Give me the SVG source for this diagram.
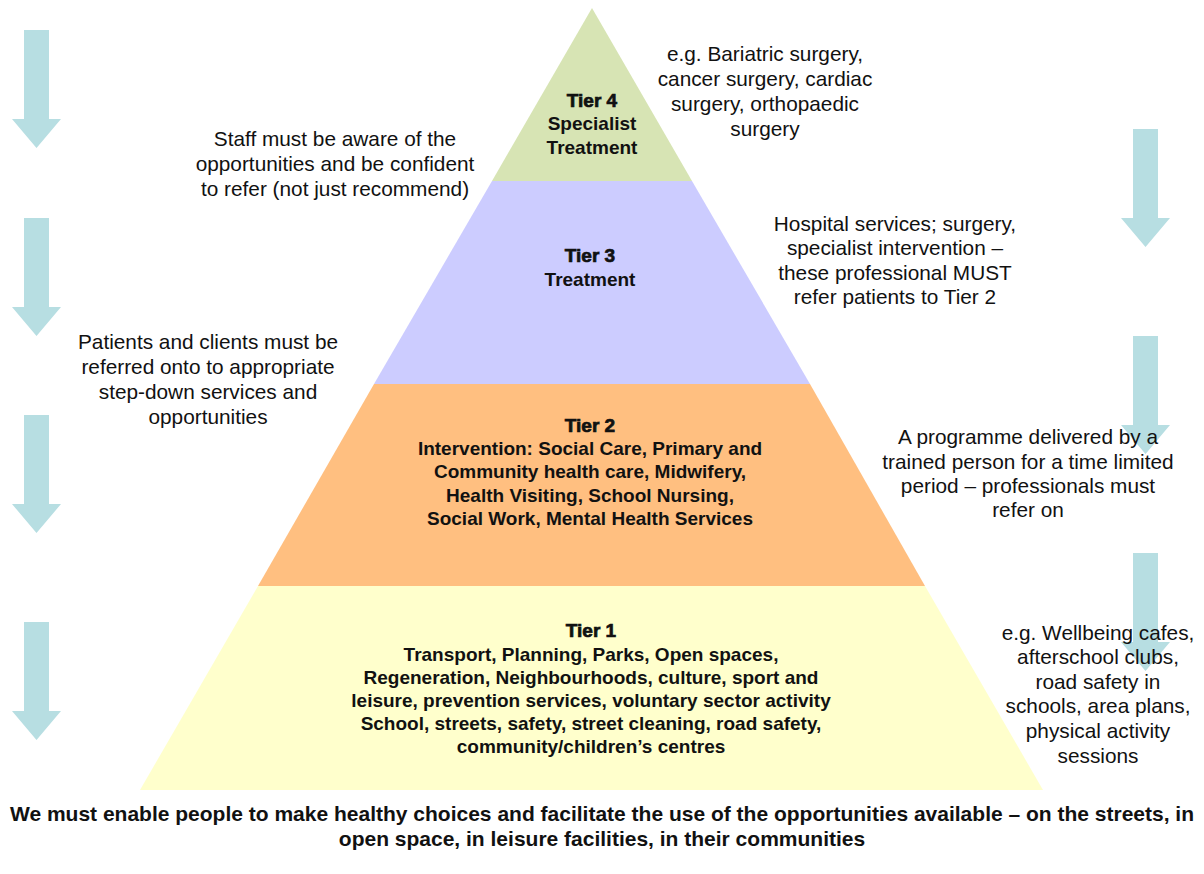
<svg xmlns="http://www.w3.org/2000/svg" width="1204" height="874" viewBox="0 0 1204 874">
  <defs>
    <style>
      .note { font-family: "Liberation Sans", Arial, sans-serif; font-size: 20.8px; fill: #111; text-anchor: middle; }
      .tier { font-family: "Liberation Sans", Arial, sans-serif; font-size: 19px; font-weight: bold; fill: #111; text-anchor: middle; }
      .head { font-family: "Liberation Sans", Arial, sans-serif; font-size: 19px; font-weight: bold; fill: #111; stroke: #111; stroke-width: 0.7; text-anchor: middle; }
      .foot { font-family: "Liberation Sans", Arial, sans-serif; font-size: 21px; font-weight: bold; fill: #111; text-anchor: middle; }
      .arrow { fill: #B7DEE2; }
    </style>
    <!-- down arrow, origin at top-left of its bounding box -->
    <path id="down" class="arrow" d="M12 0 H37 V89 H49 L24.5 118 L0 89 H12 Z"/>
  </defs>

  <rect width="1204" height="874" fill="#ffffff"/>

  <!-- flow arrows -->
  <g id="arrows">
    <use href="#down" x="12" y="30"/>
    <use href="#down" x="12" y="218"/>
    <use href="#down" x="12" y="415"/>
    <use href="#down" x="12" y="622"/>
    <use href="#down" x="1121" y="129"/>
    <use href="#down" x="1121" y="336"/>
    <use href="#down" x="1121" y="553"/>
  </g>

  <!-- pyramid tiers -->
  <g id="tier4">
    <polygon points="592,8 692,181 492,181" fill="#D7E4B4"/>
    <text class="head" x="592" y="107">Tier 4</text>
    <text class="tier" x="592" y="130">Specialist</text>
    <text class="tier" x="592" y="154">Treatment</text>
  </g>
  <g id="tier3">
    <polygon points="492,181 692,181 810,384 374,384" fill="#CCCCFF"/>
    <text class="head" x="590" y="262">Tier 3</text>
    <text class="tier" x="590" y="286">Treatment</text>
  </g>
  <g id="tier2">
    <polygon points="374,384 810,384 925,586 258,586" fill="#FFBF80"/>
    <text class="head" x="590" y="432">Tier 2</text>
    <text class="tier" x="590" y="455">Intervention: Social Care, Primary and</text>
    <text class="tier" x="590" y="478">Community health care, Midwifery,</text>
    <text class="tier" x="590" y="502">Health Visiting, School Nursing,</text>
    <text class="tier" x="590" y="525">Social Work, Mental Health Services</text>
  </g>
  <g id="tier1">
    <polygon points="258,586 925,586 1043,790 140,790" fill="#FFFFCC"/>
    <text class="head" x="591" y="637">Tier 1</text>
    <text class="tier" x="591" y="661">Transport, Planning, Parks, Open spaces,</text>
    <text class="tier" x="591" y="684">Regeneration, Neighbourhoods, culture, sport and</text>
    <text class="tier" x="591" y="707">leisure, prevention services, voluntary sector activity</text>
    <text class="tier" x="591" y="730">School, streets, safety, street cleaning, road safety,</text>
    <text class="tier" x="591" y="753">community/children’s centres</text>
  </g>

  <!-- side notes -->
  <g id="note-specialist">
    <text class="note" x="765" y="61">e.g. Bariatric surgery,</text>
    <text class="note" x="765" y="86">cancer surgery, cardiac</text>
    <text class="note" x="765" y="111">surgery, orthopaedic</text>
    <text class="note" x="765" y="136">surgery</text>
  </g>
  <g id="note-staff">
    <text class="note" x="335" y="146">Staff must be aware of the</text>
    <text class="note" x="335" y="171">opportunities and be confident</text>
    <text class="note" x="335" y="196">to refer (not just recommend)</text>
  </g>
  <g id="note-hospital">
    <text class="note" x="895" y="231">Hospital services; surgery,</text>
    <text class="note" x="895" y="255">specialist intervention –</text>
    <text class="note" x="895" y="280">these professional MUST</text>
    <text class="note" x="895" y="304">refer patients to Tier 2</text>
  </g>
  <g id="note-patients">
    <text class="note" x="208" y="349">Patients and clients must be</text>
    <text class="note" x="208" y="374">referred onto to appropriate</text>
    <text class="note" x="208" y="399">step-down services and</text>
    <text class="note" x="208" y="424">opportunities</text>
  </g>
  <g id="note-programme">
    <text class="note" x="1028" y="444">A programme delivered by a</text>
    <text class="note" x="1028" y="469">trained person for a time limited</text>
    <text class="note" x="1028" y="493">period – professionals must</text>
    <text class="note" x="1028" y="517">refer on</text>
  </g>
  <g id="note-examples">
    <text class="note" x="1098" y="640">e.g. Wellbeing cafes,</text>
    <text class="note" x="1098" y="664">afterschool clubs,</text>
    <text class="note" x="1098" y="689">road safety in</text>
    <text class="note" x="1098" y="713">schools, area plans,</text>
    <text class="note" x="1098" y="738">physical activity</text>
    <text class="note" x="1098" y="763">sessions</text>
  </g>

  <!-- closing statement -->
  <g id="footer">
    <text class="foot" x="602" y="821">We must enable people to make healthy choices and facilitate the use of the opportunities available – on the streets, in</text>
    <text class="foot" x="602" y="846">open space, in leisure facilities, in their communities</text>
  </g>
</svg>
